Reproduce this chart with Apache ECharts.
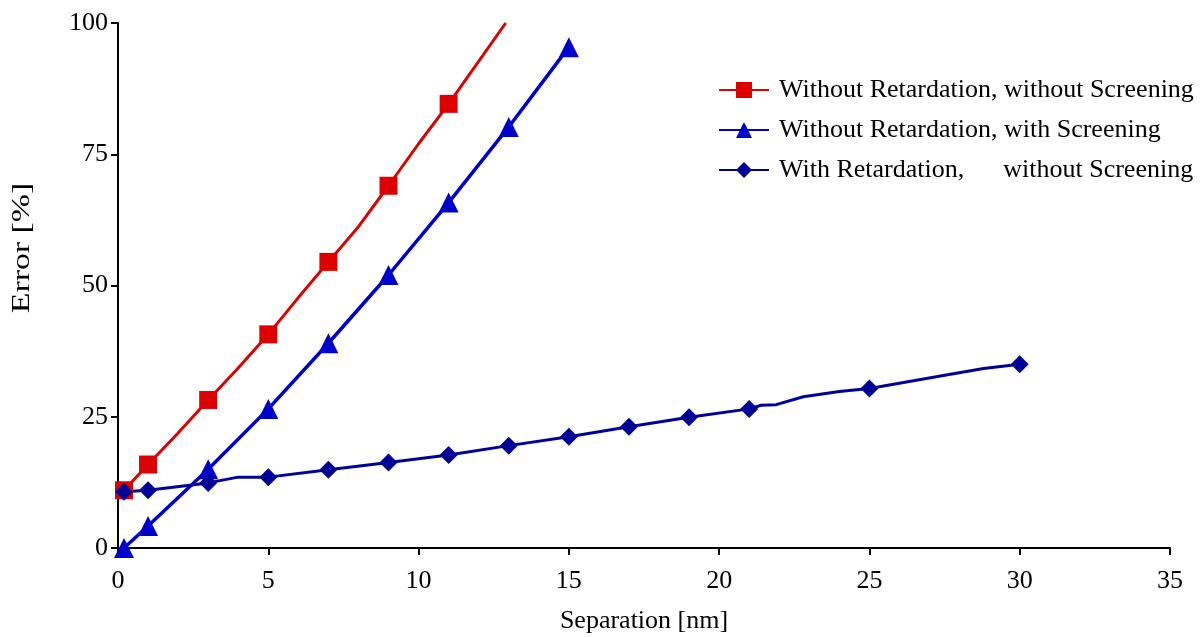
<!DOCTYPE html>
<html>
<head>
<meta charset="utf-8">
<script src="https://cdn.jsdelivr.net/npm/echarts@6/dist/echarts.min.js"></script>
<style>
  html, body { margin: 0; padding: 0; background: #fff; }
  #main { width: 1202px; height: 637px; }
</style>
</head>
<body>
<div id="main"></div>
<script>
// series names
var names = [
  'Without Retardation, without Screening',
  'Without Retardation, with Screening',
  'With Retardation,      without Screening'
];

// red: without retardation, without screening
var redX = [0.2, 1, 2, 3, 4, 5, 6, 7, 8, 9, 10, 11, 12.9];
var redY = [11.0, 15.9, 21.9, 28.2, 34.3, 40.7, 47.7, 54.5, 61.2, 69.0, 77.0, 84.6, 100];
var redMarked = [0.2, 1, 3, 5, 7, 9, 11];

// blue: without retardation, with screening
var blueX = [0.2, 1, 3, 5, 7, 9, 11, 13, 15];
var blueY = [0, 4.2, 15.0, 26.5, 39.0, 52.0, 65.8, 80.2, 95.4];
var blueMarked = [0.2, 1, 3, 5, 7, 9, 11, 13, 15];

// navy: with retardation, without screening
var navyX = [0.2, 1, 3, 4, 5, 7, 9, 10, 11, 13, 15, 17, 19, 21, 21.4, 21.9, 22.8, 24, 25, 27.6, 28.8, 30];
var navyY = [10.7, 11.0, 12.4, 13.5, 13.5, 14.9, 16.3, 17.0, 17.7, 19.5, 21.2, 23.1, 24.9, 26.5, 27.2, 27.3, 28.8, 29.8, 30.4, 33.0, 34.2, 35.0];
var navyMarked = [0.2, 1, 3, 5, 7, 9, 11, 13, 15, 17, 19, 21, 25, 30];

var xTicks = [0, 5, 10, 15, 20, 25, 30, 35];
var yTicks = [0, 25, 50, 75, 100];

var font = '"Liberation Serif", "Times New Roman", serif';

function pairs(xs, ys) {
  var out = [];
  for (var i = 0; i < xs.length; i++) out.push([xs[i], ys[i]]);
  return out;
}

function sizer(marked, size) {
  return function (val) {
    return marked.indexOf(val[0]) >= 0 ? size : 0;
  };
}

function makeSeries(name, xs, ys, marked, color, symbol, size, width) {
  return {
    name: name,
    type: 'line',
    data: pairs(xs, ys),
    symbol: symbol,
    symbolSize: sizer(marked, size),
    showAllSymbol: true,
    clip: false,
    color: color,
    lineStyle: { color: color, width: width },
    itemStyle: { color: color },
    emphasis: { disabled: true },
    z: 3
  };
}

var myChart = echarts.init(document.getElementById('main'));
var option = {
  animation: false,
  backgroundColor: '#fff',
  grid: { left: 118, right: 32, top: 23, bottom: 89, outerBoundsMode: 'none', containLabel: false },
  legend: {
    orient: 'vertical',
    left: 713,
    top: 72,
    itemWidth: 50,
    itemHeight: 20,
    itemGap: 14,
    textStyle: { fontFamily: font, fontSize: 26, color: '#000', padding: [0, 0, 0, 5] },
    data: names
  },
  graphic: [{
    type: 'text',
    x: 22,
    y: 248,
    rotation: Math.PI / 2,
    scaleX: 1.3,
    style: {
      text: 'Error [%]',
      fontFamily: font,
      fontSize: 26,
      fill: '#000',
      align: 'center',
      verticalAlign: 'middle'
    }
  }],
  xAxis: {
    type: 'value',
    min: xTicks[0],
    max: xTicks[xTicks.length - 1],
    interval: 5,
    name: 'Separation [nm]',
    nameLocation: 'middle',
    nameGap: 60,
    nameTextStyle: { fontFamily: font, fontSize: 26, color: '#000' },
    axisLine: { lineStyle: { color: '#000', width: 2 } },
    axisTick: { length: 7, lineStyle: { color: '#000', width: 2 } },
    axisLabel: { fontFamily: font, fontSize: 26, color: '#000', margin: 20 },
    splitLine: { show: false }
  },
  yAxis: {
    type: 'value',
    min: yTicks[0],
    max: yTicks[yTicks.length - 1],
    interval: 25,
    axisLine: { show: true, lineStyle: { color: '#000', width: 2 } },
    axisTick: { show: true, length: 7, lineStyle: { color: '#000', width: 2 } },
    axisLabel: { fontFamily: font, fontSize: 26, color: '#000', margin: 10 },
    splitLine: { show: false }
  },
  series: [
    makeSeries(names[0], redX, redY, redMarked, '#dd0000', 'rect', 18, 3),
    makeSeries(names[1], blueX, blueY, blueMarked, '#0000cc', 'triangle', 20, 3.5),
    makeSeries(names[2], navyX, navyY, navyMarked, '#000099', 'diamond', 18, 3)
  ]
};
myChart.setOption(option);
</script>
</body>
</html>
